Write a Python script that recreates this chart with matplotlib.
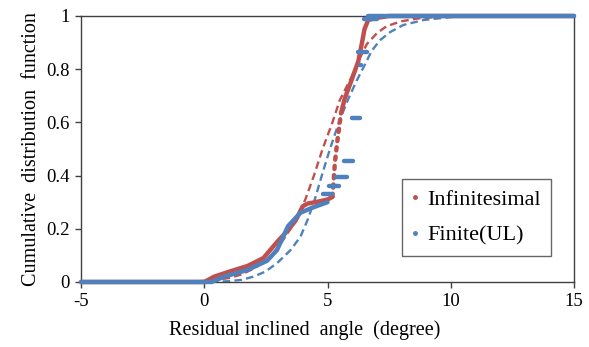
import matplotlib
matplotlib.use("Agg")
import matplotlib.pyplot as plt
from matplotlib.lines import Line2D

plt.rcParams['font.family'] = ['Liberation Serif', 'DejaVu Serif']
plt.rcParams['axes.unicode_minus'] = False

# empirical CDF, infinitesimal (red dots)
inf_x = [-5, 0, 0.4, 1.05, 1.75, 2.4, 2.95, 3.4, 3.7, 4.0, 4.2, 4.5, 5.0, 5.2,
         5.25, 5.3, 5.4, 5.55, 5.7, 6.0, 6.25, 6.4, 6.5, 6.65, 7.0, 7.5, 15]
inf_y = [0, 0, 0.02, 0.04, 0.06, 0.09, 0.15, 0.195, 0.23, 0.285, 0.295, 0.3, 0.31, 0.32,
         0.38, 0.45, 0.53, 0.635, 0.69, 0.765, 0.83, 0.9, 0.95, 0.985, 0.993, 1.0, 1.0]
inf_sparse = (13, 17)  # index range where the dots thin out

# empirical CDF, finite (blue dots) - lower curve then step clusters
fin_x = [-5, 0.3, 0.8, 1.75, 2.55, 2.95, 3.2, 3.4, 3.6, 3.9, 4.4, 5.0]
fin_y = [0, 0, 0.02, 0.045, 0.08, 0.12, 0.17, 0.21, 0.23, 0.26, 0.28, 0.3]
fin_steps = [(4.8, 5.2, 0.33), (5.05, 5.45, 0.36), (5.35, 5.8, 0.395),
             (5.65, 6.05, 0.455), (6.05, 6.05, 0.59), (6.0, 6.33, 0.615),
             (6.3, 6.35, 0.815), (6.25, 6.6, 0.865), (6.5, 6.5, 0.94),
             (6.5, 7.0, 0.99), (6.65, 15, 1.0)]

# fitted CDFs (dashed)
inf_fit_x = [-5, -1, 0, 0.5, 1, 1.5, 2, 2.5, 3, 3.5, 4.1, 4.45, 4.8, 5.2, 5.5,
             6.0, 6.3, 6.6, 7.0, 7.4, 8.0, 8.6, 9.5, 11, 15]
inf_fit_y = [0, 0.001, 0.004, 0.008, 0.015, 0.028, 0.05, 0.08, 0.13, 0.2, 0.31, 0.4, 0.5,
             0.6, 0.684, 0.775, 0.84, 0.895, 0.935, 0.962, 0.98, 0.99, 0.997, 1.0, 1.0]
fin_fit_x = [-5, 0.5, 1, 1.5, 2, 2.5, 3, 3.5, 3.9, 4.2, 4.5, 4.8, 5.1, 5.5, 5.85,
             6.2, 6.53, 6.8, 7.14, 7.55, 8.07, 8.9, 10, 11.5, 15]
fin_fit_y = [0, 0.001, 0.003, 0.008, 0.02, 0.04, 0.075, 0.12, 0.17, 0.235, 0.315, 0.41, 0.5,
             0.61, 0.69, 0.76, 0.82, 0.87, 0.91, 0.94, 0.966, 0.985, 0.996, 1.0, 1.0]

x_ticks = [-5, 0, 5, 10, 15]
y_ticks = [0, 0.2, 0.4, 0.6, 0.8, 1.0]
y_ticklabels = ['0', '0.2', '0.4', '0.6', '0.8', '1']

red = '#C0504D'
blue = '#4F81BD'

fig = plt.figure(figsize=(5.89, 3.47), dpi=100)
ax = fig.add_axes([81 / 589, 65 / 347, 493 / 589, 266 / 347])

dash = dict(lw=1.7, dashes=(3.2, 1.8))
ax.plot(inf_fit_x, inf_fit_y, color=red, **dash, zorder=2)
ax.plot(fin_fit_x, fin_fit_y, color=blue, **dash, zorder=2)

a, b = inf_sparse
thick = dict(lw=3.2, solid_capstyle='round', solid_joinstyle='round', clip_on=False)
ax.plot(inf_x[:a + 1], inf_y[:a + 1], color=red, zorder=3, **thick)
ax.plot(inf_x[a:b + 1], inf_y[a:b + 1], color=red, zorder=3, lw=3.2,
        dashes=(0.7, 1.4), dash_capstyle='round', clip_on=False)
ax.plot(inf_x[b:], inf_y[b:], color=red, zorder=3, **thick)

ax.plot(fin_x, fin_y, color=blue, zorder=4, **thick)
for x0, x1, y in fin_steps:
    ax.plot([x0, x1], [y, y], color=blue, zorder=4, **thick)

ax.set_xlim(-5, 15)
ax.set_ylim(0, 1)
ax.set_xticks(x_ticks)
ax.set_yticks(y_ticks)
ax.set_yticklabels(y_ticklabels)
ax.tick_params(direction='out', length=4, width=1, color='#404040',
               labelsize=13.5, pad=4)
for s in ax.spines.values():
    s.set_color('#404040')
    s.set_linewidth(1)

ax.set_xlabel('Residual inclined  angle  (degree)', fontsize=14.5)
ax.xaxis.set_label_coords(0.454, -0.142)
ax.set_ylabel('Cumulative  distribution  function', fontsize=14.5, labelpad=4)

handles = [Line2D([], [], ls='none', marker='o', ms=2.5, color=red),
           Line2D([], [], ls='none', marker='o', ms=2.5, color=blue)]
leg = ax.legend(handles, ['Infinitesimal', 'Finite(UL)'], loc='upper left',
                bbox_to_anchor=(0.651, 0.387), borderaxespad=0, fontsize=16,
                frameon=True, fancybox=False, edgecolor='#404040',
                handlelength=0.3, handletextpad=0.4, labelspacing=0.7,
                borderpad=0.45)
leg.get_frame().set_linewidth(1)

fig.savefig('out.png', dpi=100)
